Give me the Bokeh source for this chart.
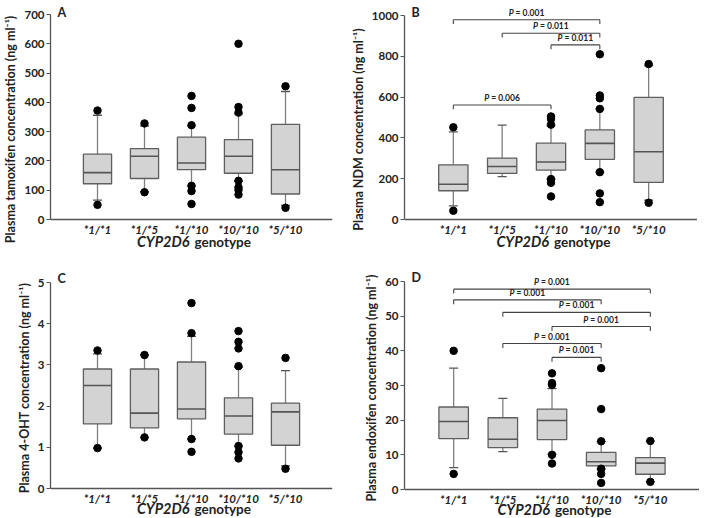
from bokeh.plotting import figure
from bokeh.layouts import gridplot
from bokeh.models import Range1d, FixedTicker, ColumnDataSource
from bokeh.core.properties import value
from bokeh.embed import file_html
from bokeh.resources import INLINE

genotypes = ["*1/*1", "*1/*5", "*1/*10", "*10/*10", "*5/*10"]

# Panel A: tamoxifen (ng/ml)
a_lo = [66, 95, 115, 131, 48]
a_q1 = [122, 140, 170, 158, 87]
a_med = [160, 216, 193, 216, 170]
a_q3 = [223, 242, 281, 273, 325]
a_hi = [356, 320, 320, 361, 437]
a_out = [[372, 50], [328, 93], [422, 381, 322, 115, 97, 53],
         [600, 384, 365, 132, 110, 101, 85], [455, 40]]
a_yticks = [0, 100, 200, 300, 400, 500, 600, 700]

# Panel B: NDM
b_lo = [67, 210, 198, 232, 95]
b_q1 = [141, 226, 242, 295, 182]
b_med = [173, 260, 282, 373, 332]
b_q3 = [268, 301, 374, 439, 599]
b_hi = [430, 463, 460, 542, 755]
b_out = [[452, 43], [], [505, 493, 465, 198, 180, 113],
         [810, 608, 594, 542, 232, 128, 85], [762, 82]]
b_yticks = [0, 200, 400, 600, 800, 1000]
b_br_from = [1, 2, 3, 1]
b_br_to = [4, 4, 4, 3]
b_br_level = [979, 913, 856, 561]
b_br_p = ["0.001", "0.011", "0.011", "0.006"]

# Panel C: 4-OHT
c_lo = [0.98, 1.24, 1.20, 1.03, 0.55]
c_q1 = [1.57, 1.47, 1.69, 1.32, 1.05]
c_med = [2.50, 1.83, 1.93, 1.76, 1.86]
c_q3 = [2.90, 2.90, 3.07, 2.20, 2.07]
c_hi = [3.27, 3.24, 3.69, 2.94, 2.86]
c_out = [[3.35, 0.98], [3.24, 1.24], [4.50, 3.77, 1.20, 0.89],
         [3.82, 3.56, 3.40, 2.97, 1.03, 0.88, 0.73], [3.17, 0.48]]
c_yticks = [0, 1, 2, 3, 4, 5]

# Panel D: endoxifen
d_lo = [6.3, 10.9, 10.2, 5.9, 2.3]
d_q1 = [14.7, 12.1, 14.4, 6.8, 4.4]
d_med = [19.6, 14.5, 19.9, 8.0, 7.6]
d_q3 = [23.8, 20.7, 23.2, 10.7, 9.2]
d_hi = [35.0, 26.3, 29.1, 13.8, 13.9]
d_out = [[40.0, 4.5], [], [33.5, 30.7, 30.2, 10.0, 7.5],
         [35.0, 23.2, 13.9, 6.0, 4.5, 1.9], [14.0, 2.2]]
d_yticks = [0, 10, 20, 30, 40, 50, 60]
d_br_from = [1, 1, 2, 3, 2, 3]
d_br_to = [5, 4, 5, 5, 4, 4]
d_br_level = [57.8, 54.7, 51.1, 47.0, 42.1, 38.1]
d_br_p = ["0.001"] * 6

FONT = value("Lato")
FONTN = "Lato"
AX = "#555555"
TXT = "#222222"


def panel(letter, ylabel, yticks, lo, q1, med, q3, hi, out, brackets,
          width, height, left, right, top_px, zero_px, letter_dy, title_dy):
    ymax = yticks[-1]
    s = (zero_px - top_px) / ymax          # pixels per unit
    y_hi = ymax + top_px / s
    y_lo = -(height - zero_px) / s
    p = figure(width=width, height=height, output_backend="svg",
               toolbar_location=None, x_range=Range1d(0, 6),
               y_range=Range1d(y_lo, y_hi))
    p.min_border_left = left
    p.min_border_right = right
    p.min_border_top = 0
    p.min_border_bottom = 0
    p.outline_line_color = None
    p.grid.visible = False

    xs = list(range(1, len(genotypes) + 1))
    src = ColumnDataSource(dict(x=xs, lo=lo, q1=q1, med=med, q3=q3, hi=hi))
    p.segment("x", "q3", "x", "hi", source=src, line_color="#808080", line_width=1.3)
    p.segment("x", "lo", "x", "q1", source=src, line_color="#808080", line_width=1.3)
    p.scatter("x", "hi", source=src, marker="dash", size=9, line_color="#555555", line_width=1.3)
    p.scatter("x", "lo", source=src, marker="dash", size=9, line_color="#555555", line_width=1.3)
    p.vbar(x="x", top="q3", bottom="q1", width=0.6, source=src,
           fill_color="#d3d3d3", line_color="#5f5f5f", line_width=1.3)
    p.segment(x0=[x - 0.3 for x in xs], y0=med, x1=[x + 0.3 for x in xs], y1=med,
              line_color="#555555", line_width=1.6)
    ox, oy = [], []
    for i, vals in enumerate(out):
        for v in vals:
            ox.append(i + 1)
            oy.append(v)
    p.scatter(ox, oy, size=7.5, color="black")

    if brackets is not None:
        bf, bt, bl, bp = brackets
        drop = ymax * 0.021
        p.segment(x0=bf, y0=bl, x1=bt, y1=bl, line_color="#444444", line_width=1.1)
        p.segment(x0=bf, y0=bl, x1=bf, y1=[v - drop for v in bl], line_color="#444444", line_width=1.1)
        p.segment(x0=bt, y0=bl, x1=bt, y1=[v - drop for v in bl], line_color="#444444", line_width=1.1)
        xc = [(f + t) / 2 for f, t in zip(bf, bt)]
        p.text(x=xc, y=bl, text=["P"] * len(bl), x_offset=-13, y_offset=-2,
               text_align="right", text_baseline="bottom", text_font=FONT,
               text_font_style="bold italic", text_font_size="8.5px", text_color=TXT)
        p.text(x=xc, y=bl, text=["= " + v for v in bp], x_offset=-11, y_offset=-2,
               text_align="left", text_baseline="bottom", text_font=FONT,
               text_font_style="bold", text_font_size="8.5px", text_color=TXT)

    # y axis
    p.yaxis.ticker = FixedTicker(ticks=yticks)
    p.yaxis.bounds = (0, ymax)
    p.yaxis.minor_tick_line_color = None
    p.yaxis.major_tick_out = 4
    p.yaxis.major_tick_in = 0
    p.yaxis.major_tick_line_color = AX
    p.yaxis.major_label_standoff = 2
    p.yaxis.major_label_text_font_style = "bold"
    p.yaxis.axis_label = ylabel
    p.yaxis.axis_label_standoff = 3
    p.yaxis.axis_label_text_font = FONTN
    p.yaxis.axis_label_text_font_style = "bold"
    p.yaxis.axis_label_text_font_size = "12.5px"
    p.yaxis.axis_label_text_color = TXT

    # x axis placed at y = 0
    p.xaxis.fixed_location = 0
    p.xaxis.ticker = FixedTicker(ticks=xs)
    p.xaxis.major_label_overrides = {i + 1: g for i, g in enumerate(genotypes)}
    p.xaxis.major_tick_line_color = None
    p.xaxis.major_tick_out = 0
    p.xaxis.major_tick_in = 0
    p.xaxis.minor_tick_line_color = None
    p.xaxis.minor_tick_out = 0
    p.xaxis.major_label_standoff = 3
    p.xaxis.major_label_text_font_style = "bold italic"

    for ax in (p.xaxis, p.yaxis):
        ax.axis_line_color = AX
        ax.axis_line_width = 1.3
        ax.major_label_text_font = FONTN
        ax.major_label_text_font_size = "11.5px"
        ax.major_label_text_color = TXT

    # x-axis title: italic gene name + upright word
    p.text(x=[3], y=[0], text=["CYP2D6"], x_offset=-2, y_offset=title_dy,
           text_align="right", text_baseline="middle", text_font=FONT,
           text_font_style="bold italic", text_font_size="14.5px", text_color=TXT)
    p.text(x=[3], y=[0], text=["genotype"], x_offset=3, y_offset=title_dy,
           text_align="left", text_baseline="middle", text_font=FONT,
           text_font_style="bold", text_font_size="13.5px", text_color=TXT)
    # panel letter
    p.text(x=[0], y=[ymax], text=[letter], x_offset=7, y_offset=letter_dy,
           text_align="left", text_baseline="alphabetic", text_font=FONT,
           text_font_style="bold", text_font_size="12.5px", text_color=TXT)
    return p


unit = " (ng ml\u207b\u00b9)"
pa = panel("A", "Plasma tamoxifen concentration" + unit, a_yticks,
           a_lo, a_q1, a_med, a_q3, a_hi, a_out, None,
           347, 258, 41, 12, 14, 219, -2, 22)
pb = panel("B", "Plasma NDM concentration" + unit, b_yticks,
           b_lo, b_q1, b_med, b_q3, b_hi, b_out,
           (b_br_from, b_br_to, b_br_level, b_br_p),
           350, 258, 56, 0, 15, 219, -3, 22)
pc = panel("C", "Plasma 4-OHT concentration" + unit, c_yticks,
           c_lo, c_q1, c_med, c_q3, c_hi, c_out, None,
           347, 259, 38, 15, 24, 230, -4, 20)
pd = panel("D", "Plasma endoxifen concentration" + unit, d_yticks,
           d_lo, d_q1, d_med, d_q3, d_hi, d_out,
           (d_br_from, d_br_to, d_br_level, d_br_p),
           352, 259, 57, 0, 23, 231, -4, 20)

grid = gridplot([[pa, pb], [pc, pd]], toolbar_location=None)
open("out.html", "w").write(file_html(grid, INLINE))
